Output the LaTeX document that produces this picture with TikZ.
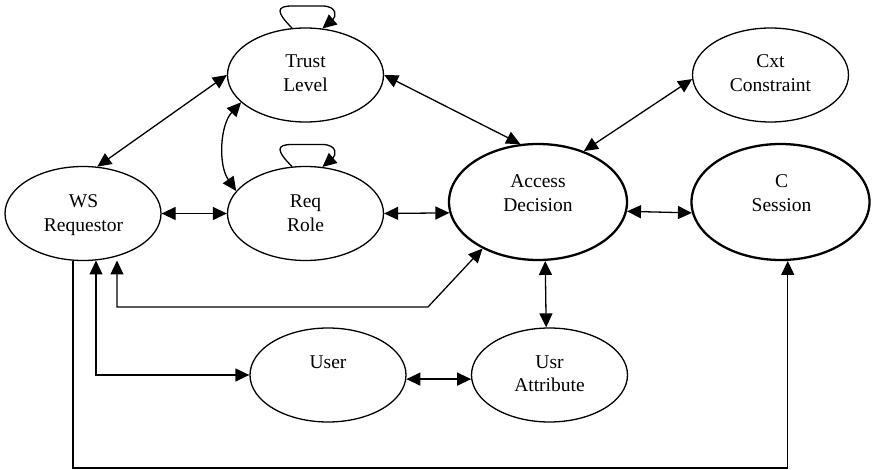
\documentclass[tikz,border=0pt]{standalone}
\usepackage{fontspec}
\setmainfont{Liberation Serif}
\usetikzlibrary{arrows.meta,shapes.geometric,calc}
% two centred lines whose box baseline is the first line
\newcommand{\twolines}[2]{\begin{tabular}[t]{@{}c@{}}#1\\#2\end{tabular}}
\renewcommand{\arraystretch}{1}
\begin{document}
\begin{tikzpicture}[x=1pt,y=-1pt,
  >={Triangle[length=14pt,width=13pt]},
  ent/.style={ellipse,draw,line width=1.3pt,inner sep=0pt,
    minimum width=156pt,minimum height=94pt},
  entmain/.style={ent,line width=2.3pt,minimum width=178pt,minimum height=116pt},
  lbl/.style={anchor=base,inner sep=0pt,font=\fontsize{19.5}{23.5}\selectfont},
  conn/.style={line width=1.3pt},
  bidir/.style={conn,<->},
  unidir/.style={conn,->}]
\useasboundingbox (0,0) rectangle (873,470);

% entities
\node[ent] (tl) at (305.5,75) {};
\node[ent] (cxt) at (770.5,75) {};
\node[ent] (ws) at (83,213.5) {};
\node[ent] (rr) at (305.5,213.5) {};
\node[entmain] (ad) at (538,202) {};
\node[entmain] (cs) at (780.5,202) {};
\node[ent] (us) at (328,375) {};
\node[ent] (ua) at (549.5,375) {};

% entity names
\node[lbl] (tl-t) at (305.5,68) {\twolines{Trust}{Level}};
\node[lbl] (cxt-t) at (770.5,68) {\twolines{Cxt}{Constraint}};
\node[lbl] (ws-t) at (83.5,208) {\twolines{WS}{Requestor}};
\node[lbl] (rr-t) at (305.5,208) {\twolines{Req}{Role}};
\node[lbl] (ad-t) at (538,188) {\twolines{Access}{Decision}};
\node[lbl] (cs-t) at (781.5,188) {\twolines{C}{Session}};
\node[lbl] (us-t) at (328,369) {User};
\node[lbl] (ua-t) at (549.5,368.5) {\twolines{Usr}{Attribute}};

% self loops on top of Trust Level and Req Role
\foreach \n in {tl,rr}
  \draw[unidir] (\n.106) .. controls ($(\n)+(-29.5,-63)$) and ($(\n)+(-29.5,-69)$)
    .. ($(\n)+(-13.5,-69)$) -- ($(\n)+(16.5,-69)$)
    .. controls ($(\n)+(32.5,-69)$) and ($(\n)+(30.5,-58)$) .. (\n.70);

% straight links
\draw[bidir] (ws.73) -- (tl.west);
\draw[bidir] (tl.203) .. controls (220,125) and (218,165) .. (rr.162);
\draw[bidir] (ws.east) -- (rr.west);
\draw[bidir] (rr.east) -- (ad.187);
\draw[bidir] (tl.east) -- (ad.107);
\draw[bidir] (ad.48) -- (cxt.183);
\draw[bidir] (ad.354) -- (cs.187);
\draw[bidir] (ad.277) -- (ua.94);
\draw[bidir] (us.357) -- (ua.183);

% routed links below WS Requestor
\coordinate (wsa) at (96,260.5);
\coordinate (wsb) at (117,260.5);
\coordinate (bend) at (428,307);
\coordinate (floor) at (0,468);
\draw[bidir] (wsa) |- (us.west);
\draw[bidir] (ad.220) -- (bend) -- (bend -| wsb) -- (wsb);
\draw[unidir] (ws.258) -- (ws.258 |- floor) -| (cs.277);
\end{tikzpicture}
\end{document}
